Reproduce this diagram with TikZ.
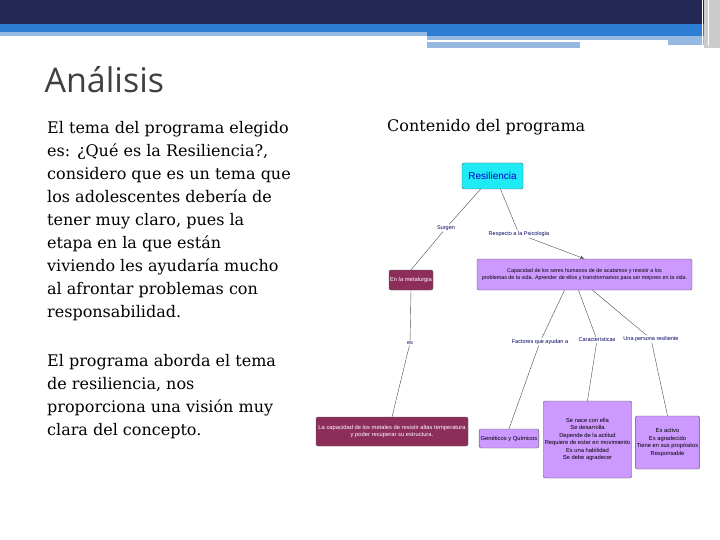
\documentclass[tikz,border=0pt]{standalone}
\usepackage{fontspec}
\setmainfont{DejaVu Serif}
\newfontfamily\titlef{Open Sans}
\newfontfamily\mapf{Liberation Sans}
\definecolor{navy}{RGB}{36,40,84}
\definecolor{hblue}{RGB}{46,125,212}
\definecolor{lblue}{RGB}{150,185,225}
\definecolor{lpurp}{RGB}{204,153,255}
\definecolor{maroon}{RGB}{140,45,90}
\definecolor{cyanb}{RGB}{30,235,245}
\begin{document}
\begin{tikzpicture}[x=1pt,y=-1pt,
  lbl/.style={font=\mapf\fontsize{5.5}{6}\selectfont,text=blue!40!black,inner sep=1pt},
  cbox/.style={draw=gray!70!black,rounded corners=2pt,font=\mapf\fontsize{5.8}{7.5}\selectfont,align=center,inner sep=1.5pt},
  pbox/.style={cbox,fill=lpurp},
  mbox/.style={cbox,fill=maroon,text=white},
  ln/.style={gray!60!black,line width=0.4pt}]
\useasboundingbox (0,0) rectangle (720,540);
\fill[white] (0,0) rectangle (720,540);
% header
\fill[navy] (0,0) rectangle (720,24);
\fill[hblue] (0,24) rectangle (720,32);
\fill[hblue] (427,32) rectangle (720,36);
\fill[lblue] (0,32) rectangle (427,36);
\fill[lblue] (427,36) rectangle (720,40);
\fill[lblue] (427,42) rectangle (580,48);
\fill[lblue] (668,40) rectangle (705,45);
\fill[gray!40] (704,0) rectangle (720,48);
\draw[white,line width=1pt] (702,0) -- (702,46) (708,0)--(708,46);
% title
\node[anchor=west,font=\titlef\fontsize{34}{40}\selectfont,text=black!75] (t) at (41,80) {Análisis};
\node[anchor=north west,align=left,font=\fontsize{16}{23}\selectfont,inner sep=0pt] (p1) at (47,121)
 {El tema del programa elegido\\es: ¿Qué es la Resiliencia?,\\considero que es un tema que\\los adolescentes debería de\\tener muy claro, pues la\\etapa en la que están\\viviendo les ayudaría mucho\\al afrontar problemas con\\responsabilidad.};
\node[anchor=north west,align=left,font=\fontsize{16}{23}\selectfont,inner sep=0pt] (p2) at (47,354)
 {El programa aborda el tema\\de resiliencia, nos\\proporciona una visión muy\\clara del concepto.};
\node[anchor=west,font=\fontsize{16}{18}\selectfont,inner sep=0pt] (h) at (387,127) {Contenido del programa};
% map
\node[cbox,fill=cyanb,text=blue!80!black,font=\mapf\fontsize{10}{11}\selectfont,minimum width=61,minimum height=26] (res) at (492.5,176) {Resiliencia};
\node[pbox,minimum width=215,minimum height=31,font=\mapf\fontsize{5.4}{7.5}\selectfont] (cap) at (584.5,274.5) {Capacidad de los seres humanos de de acatamos y resistir a los\\problemas de la vida. Aprender de ellos y transformamos para ser mejores en la vida.};
\node[mbox,minimum width=44,minimum height=20,inner sep=1pt] (met) at (411,280) {En la metalurgia};
\node[mbox,minimum width=152,minimum height=29] (mdef) at (392,431.5) {La capacidad de los metales de resistir altas temperatura\\y poder recuperar su estructura.};
\node[pbox,minimum width=58,minimum height=19] (gen) at (509,438.5) {Genéticos y Químicos};
\node[pbox,minimum width=85,minimum height=77,font=\mapf\fontsize{5.8}{7.4}\selectfont] (car) at (587.5,439.5) {Se nace con ella\\Se desarrolla\\Depende de la actitud\\Requiere de estar en movimiento\\Es una habilidad\\Se debe agradecer};
\node[pbox,minimum width=63,minimum height=53,font=\mapf\fontsize{5.8}{7.6}\selectfont] (per) at (667.5,442.5) {Es activo\\Es agradecido\\Tiene en sus propósitos\\Responsable};
% labels
\node[lbl] (l1) at (446,228) {Surgen};
\node[lbl] (l2) at (519,234) {Respecto a la Psicología};
\node[lbl] (l3) at (410,343) {es};
\node[lbl] (l4) at (540,342) {Factores que ayudan a};
\node[lbl] (l5) at (597,340) {Características};
\node[lbl] (l6) at (651,339) {Una persona resiliente};
% connectors
\draw[ln] ([xshift=-12pt]res.south) -- (l1);
\draw[ln] (l1) -- (met.north);
\draw[ln] ([xshift=8pt]res.south) -- (l2);
\draw[ln,-latex] (l2) -- (cap.north);
\draw[ln] (met.south) -- (l3);
\draw[ln] (l3) -- (mdef.north);
\draw[ln] ([xshift=-20pt]cap.south) -- (l4);
\draw[ln] (l4) -- (gen.north);
\draw[ln] ([xshift=-6pt]cap.south) -- (l5);
\draw[ln] (l5) -- (car.north);
\draw[ln] ([xshift=8pt]cap.south) -- (l6);
\draw[ln] (l6) -- (per.north);
\end{tikzpicture}
\end{document}
